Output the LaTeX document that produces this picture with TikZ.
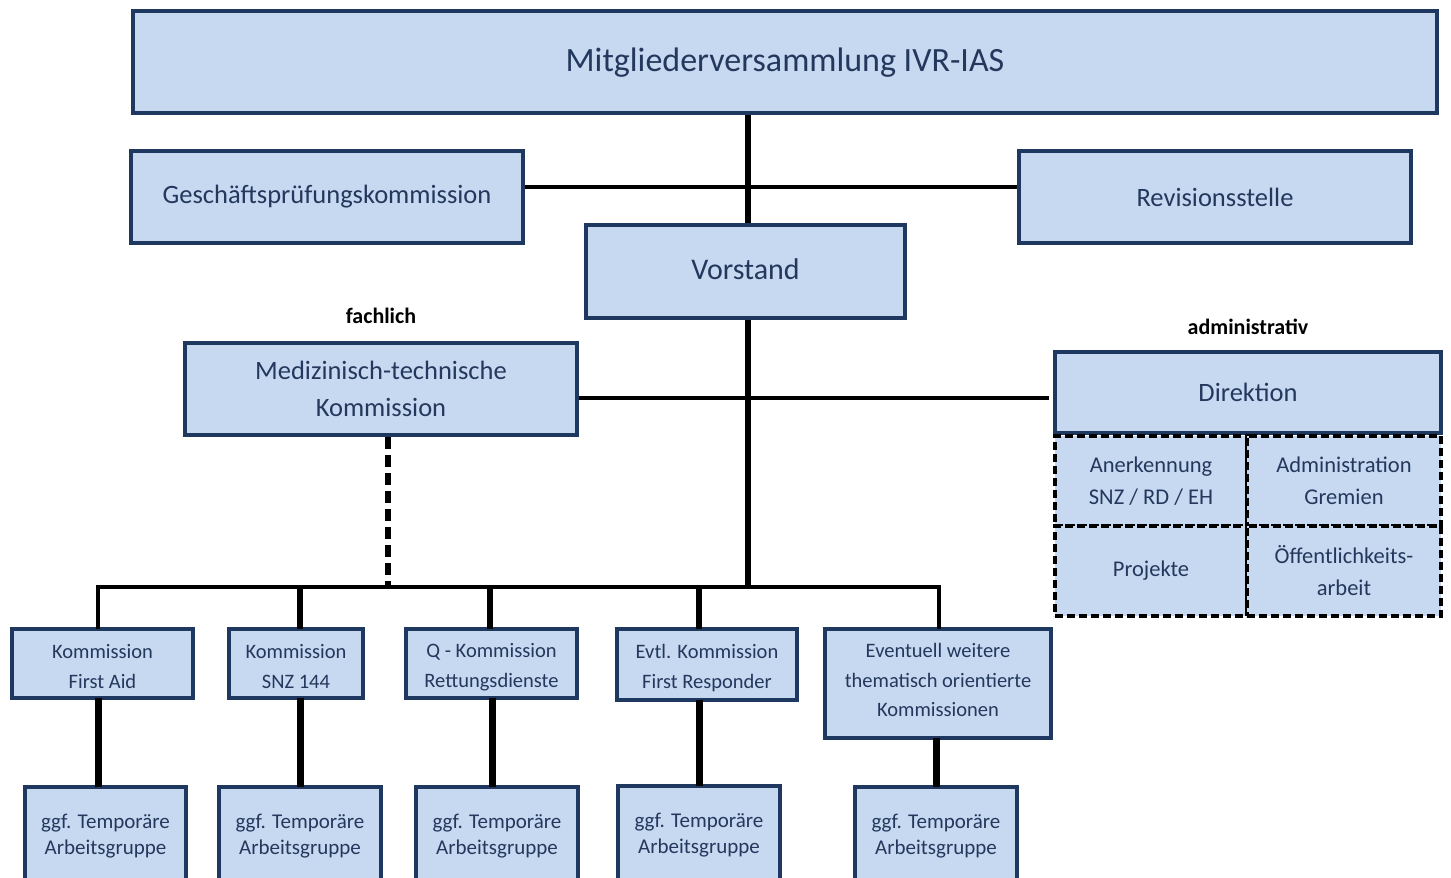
\documentclass[tikz,border=0pt]{standalone}
\usepackage{fontspec}
\setmainfont{Carlito}
\definecolor{boxfill}{RGB}{198,217,241}
\definecolor{boxdraw}{RGB}{31,56,96}
\definecolor{boxtext}{RGB}{35,56,92}
\newcommand{\shiftbox}[2]{\raisebox{#1}[\height][\depth]{#2}}
\begin{document}
\begin{tikzpicture}[x=1pt,y=-1pt,
  box/.style={draw=boxdraw, line width=4pt, fill=boxfill, text=boxtext, inner sep=0pt, align=center},
  cell/.style={draw=black, line width=4pt, dash pattern=on 8pt off 4pt, fill=boxfill, text=boxtext, inner sep=0pt, align=center},
  big/.style={font=\fontsize{34}{40}\selectfont},
  mid/.style={font=\fontsize{26.5}{37}\selectfont},
  sml/.style={font=\fontsize{20.5}{30}\selectfont},
  smlb/.style={font=\fontsize{21}{26}\selectfont},
  smlc/.style={font=\fontsize{22.5}{32}\selectfont},
  tag/.style={font=\bfseries\fontsize{22}{26}\selectfont, text=black, inner sep=0pt},
  conn/.style={draw=black, line width=4.5pt},
  trunk/.style={draw=black, line width=6pt},
  drop/.style={draw=black, line width=5.5pt},
  low/.style={draw=black, line width=7pt},
  dconn/.style={draw=black, line width=6pt, dash pattern=on 12pt off 6pt}
]
\useasboundingbox (0,0) rectangle (1451,878);
\clip (0,0) rectangle (1451,878);
\fill[white] (0,0) rectangle (1451,878);

% junction coordinates
\coordinate (j1) at (748,187);
\coordinate (j2) at (748,398);
\coordinate (busC) at (748,587);
\coordinate (jd) at (388,587);
\coordinate (d1) at (98,587);
\coordinate (d2) at (300,587);
\coordinate (d3) at (490,587);
\coordinate (d4) at (699,587);
\coordinate (d5) at (939,587);
\coordinate (e1) at (98,700);
\coordinate (e2) at (300,700);
\coordinate (e3) at (492,700);
\coordinate (e4) at (699,700);
\coordinate (e5) at (936,700);

% boxes
\node[box, big, minimum width=1304, minimum height=102] (mv) at (785,62) {\shiftbox{-1pt}{Mitgliederversammlung IVR-IAS}};
\node[box, mid, minimum width=392, minimum height=92] (gpk) at (327,197) {Geschäftsprüfungskommission};
\node[box, mid, minimum width=392, minimum height=92] (rev) at (1215,197) {Revisionsstelle};
\node[box, font=\fontsize{30}{36}\selectfont, minimum width=319, minimum height=93] (vor) at (745.5,271.5) {\shiftbox{2.5pt}{Vorstand}};
\node[box, mid, minimum width=392, minimum height=92] (mtk) at (381,389) {Medizinisch-technische\\Kommission};
\node[tag] (fach) at (381,316) {fachlich};
\node[tag] (adm) at (1248,327) {administrativ};

% connectors (drawn before the remaining boxes so boxes sit on top)
\draw[trunk] (mv.south -| j1) -- (vor.north -| j1);
\draw[conn] (gpk.east |- j1) -- (rev.west |- j1);
\draw[trunk] (vor.south -| j1) -- (busC);

\node[box, mid, minimum width=386, minimum height=81] (dir) at (1248,392.5) {Direktion};
\draw[conn] (mtk.east |- j2) -- ([xshift=-4pt]dir.west |- j2);
\draw[dconn] (mtk.south -| jd) -- (jd);

\node[cell, smlc, minimum width=192, minimum height=90] (c1) at (1151,481) {Anerkennung\\SNZ / RD / EH};
\node[cell, smlc, minimum width=194, minimum height=90] (c2) at (1344,481) {Administration\\Gremien};
\node[cell, smlc, minimum width=192, minimum height=90] (c3) at (1151,571) {Projekte};
\node[cell, smlc, minimum width=194, minimum height=90] (c4) at (1344,571) {Öffentlichkeits-\\arbeit};

% row 1
\node[box, sml, minimum width=181, minimum height=69] (fa) at (102.5,663.5) {\shiftbox{-3.5pt}{\parbox{181pt}{\centering Kommission\\First Aid}}};
\node[box, sml, minimum width=134, minimum height=69] (snz) at (296,663.5) {\shiftbox{-3.5pt}{\parbox{134pt}{\centering Kommission\\SNZ 144}}};
\node[box, sml, minimum width=171, minimum height=69] (q) at (491.5,663.5) {\shiftbox{-3.5pt}{\parbox{171pt}{\centering Q - Kommission\\Rettungsdienste}}};
\node[box, sml, minimum width=180, minimum height=71] (fr) at (707,664.5) {\shiftbox{-3.5pt}{\parbox{180pt}{\centering Evtl. Kommission\\First Responder}}};
\node[box, font=\fontsize{20.5}{29.5}\selectfont, minimum width=226, minimum height=109] (ew) at (938,683.5) {\shiftbox{3.5pt}{\parbox{226pt}{\centering Eventuell weitere\\thematisch orientierte\\Kommissionen}}};

% row 2
\node[box, smlb, minimum width=161, minimum height=98] (a1) at (105.5,836) {ggf. Temporäre\\Arbeitsgruppe};
\node[box, smlb, minimum width=162, minimum height=98] (a2) at (300,836) {ggf. Temporäre\\Arbeitsgruppe};
\node[box, smlb, minimum width=162, minimum height=98] (a3) at (497,836) {ggf. Temporäre\\Arbeitsgruppe};
\node[box, smlb, minimum width=162, minimum height=98] (a4) at (699,835) {ggf. Temporäre\\Arbeitsgruppe};
\node[box, smlb, minimum width=162, minimum height=98] (a5) at (936,836) {ggf. Temporäre\\Arbeitsgruppe};

% bus and drops
\draw[conn, line join=miter] ([yshift=-2pt]fa.north -| d1) -- (d1) -- (d5) -- ([yshift=-2pt]ew.north -| d5);
\draw[drop] (d2) -- ([yshift=-2pt]snz.north -| d2);
\draw[drop] (d3) -- ([yshift=-2pt]q.north -| d3);
\draw[drop] (d4) -- ([yshift=-2pt]fr.north -| d4);

% row1 -> row2
\draw[low] ([yshift=2pt]fa.south -| e1) -- ([yshift=-2pt]a1.north -| e1);
\draw[low] ([yshift=2pt]snz.south -| e2) -- ([yshift=-2pt]a2.north -| e2);
\draw[low] ([yshift=2pt]q.south -| e3) -- ([yshift=-2pt]a3.north -| e3);
\draw[low] ([yshift=2pt]fr.south -| e4) -- ([yshift=-2pt]a4.north -| e4);
\draw[low] ([yshift=2pt]ew.south -| e5) -- ([yshift=-2pt]a5.north -| e5);
\end{tikzpicture}
\end{document}
